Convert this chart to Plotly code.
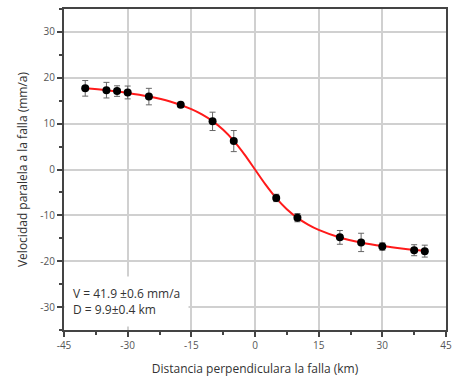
import plotly.graph_objects as go

# Observed fault-parallel velocities and their uncertainties
dist_km = [-40, -35, -32.5, -30, -25, -17.5, -10, -5, 5, 10, 20, 25, 30, 37.5, 40]
vel_mm = [17.7, 17.3, 17.1, 16.8, 15.9, 14.1, 10.5, 6.2, -6.2, -10.5, -14.8, -15.9, -16.8, -17.6, -17.8]
vel_err = [1.7, 1.7, 1.15, 1.4, 1.8, 0.5, 2.0, 2.3, 0.8, 0.9, 1.5, 2.0, 0.8, 1.2, 1.3]

# Fitted arctan profile (V = 41.9 mm/a, D = 9.9 km)
fit_x = [-40, -35, -30, -25, -20, -15, -12.5, -10, -7.5, -5, -2.5, 0,
         2.5, 5, 7.5, 10, 12.5, 15, 20, 25, 30, 35, 40]
fit_y = [17.71, 17.27, 16.70, 15.92, 14.82, 13.17, 12.01, 10.54, 8.65, 6.24, 3.30, 0.0,
         -3.30, -6.24, -8.65, -10.54, -12.01, -13.17, -14.82, -15.92, -16.70, -17.27, -17.71]

x_ticks = [-45, -30, -15, 0, 15, 30, 45]
y_ticks = [-30, -20, -10, 0, 10, 20, 30]

font_family = "Open Sans, Noto Sans, sans-serif"

fig = go.Figure()
fig.add_trace(go.Scatter(
    x=fit_x, y=fit_y, mode="lines", line=dict(color="#ff1a1a", width=2, shape="spline"),
    hoverinfo="skip", showlegend=False))
fig.add_trace(go.Scatter(
    x=dist_km, y=vel_mm, mode="markers",
    marker=dict(color="black", size=8),
    error_y=dict(type="data", array=vel_err, visible=True, color="#666666", thickness=1, width=3),
    showlegend=False))

fig.add_annotation(
    x=-45, y=-28.7, xref="x", yref="y", xanchor="left", yanchor="middle",
    text="V = 41.9 ±0.6 mm/a<br>D = 9.9±0.4 km", align="left", showarrow=False,
    font=dict(family=font_family, size=12, color="#333333"),
    bgcolor="white", borderpad=8)

axis_common = dict(
    showgrid=True, gridcolor="#d0d0d0", gridwidth=1.5, zeroline=False,
    showline=True, linecolor="#444444", linewidth=2, mirror=True,
    ticks="outside", ticklen=5, tickwidth=1.5, tickcolor="#444444",
    tickfont=dict(family=font_family, size=10, color="#555555"),
)

fig.update_xaxes(
    range=[-45, 45], tickvals=x_ticks, ticktext=[str(v) for v in x_ticks],
    minor=dict(ticks="outside", ticklen=3, tickcolor="#444444", dtick=7.5, tick0=-45, showgrid=False),
    title=dict(text="Distancia perpendiculara la falla (km)", standoff=14,
               font=dict(family=font_family, size=12, color="#333333")),
    **axis_common)
fig.update_yaxes(
    range=[-35, 35], tickvals=y_ticks, ticktext=[str(v) for v in y_ticks],
    minor=dict(ticks="outside", ticklen=3, tickcolor="#444444", dtick=5, tick0=-35, showgrid=False),
    title=dict(text="Velocidad paralela a la falla (mm/a)", standoff=10,
               font=dict(family=font_family, size=12, color="#333333")),
    **axis_common)

fig.update_layout(
    width=459, height=381,
    margin=dict(l=64, r=7, t=7, b=51),
    paper_bgcolor="white", plot_bgcolor="white",
)

fig.write_html("out.html")
